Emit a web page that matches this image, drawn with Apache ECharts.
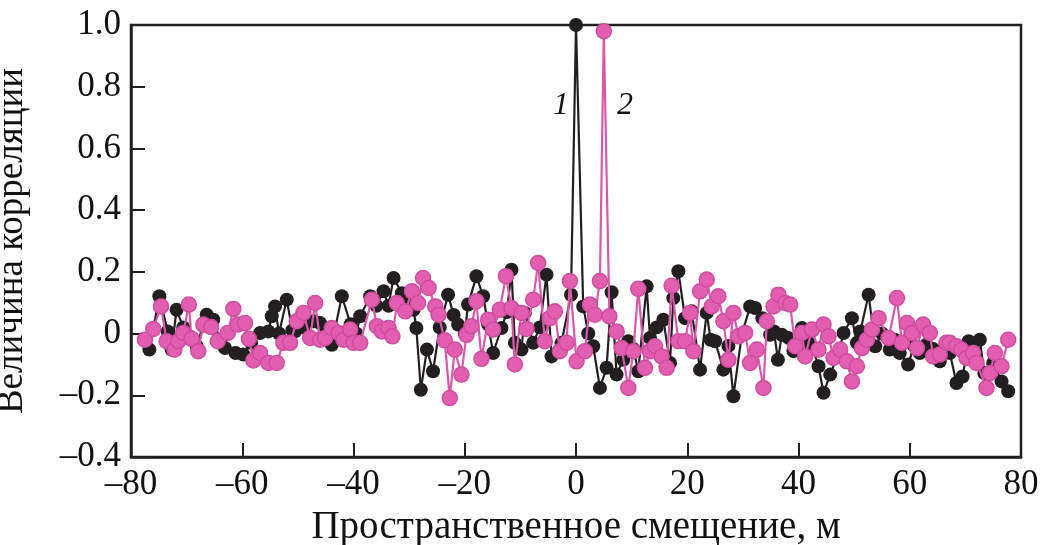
<!DOCTYPE html>
<html>
<head>
<meta charset="utf-8">
<script src="https://cdn.jsdelivr.net/npm/echarts@6/dist/echarts.min.js"></script>
<style>
  html, body { margin: 0; padding: 0; background: #ffffff; }
  #chart { width: 1048px; height: 545px; }
</style>
</head>
<body>
<div id="chart"></div>
<script>
// Curve 1 (black): spatial offset, m / correlation value
const blackX = [-76.7, -74.9, -73.4, -72.7, -71.8, -70.6, -69.4, -68.2, -66.4, -65.2,
  -64.0, -63.1, -61.2, -59.8, -58.4, -56.8, -55.3, -54.7, -54.1, -53.4,
  -52.0, -51.0, -50.5, -49.0, -47.2, -46.0, -44.8, -43.9, -42.1, -40.5,
  -39.5, -38.8, -37.0, -35.9, -34.6, -33.7, -32.8, -31.3, -30.2, -29.2,
  -28.7, -27.9, -26.8, -25.7, -24.5, -23.0, -22.0, -21.2, -20.0, -19.4,
  -17.9, -16.7, -15.8, -14.9, -13.4, -12.4, -11.6, -11.0, -9.8, -9.2,
  -7.7, -6.5, -5.3, -4.4, -2.6, -0.9, 0, 1.3, 2.2, 3.1,
  4.3, 5.5, 6.4, 7.3, 8.5, 9.4, 10.3, 11.2, 12.7, 13.3,
  14.5, 15.7, 16.9, 17.5, 18.4, 19.6, 20.8, 22.3, 23.5, 24.2,
  25.0, 26.5, 27.4, 28.3, 29.8, 31.3, 32.2, 33.5, 34.9, 35.6,
  36.3, 37.0, 38.2, 39.1, 40.6, 41.8, 42.6, 43.6, 44.5, 45.7,
  47.2, 48.1, 49.6, 50.5, 51.1, 52.6, 53.8, 55.0, 56.4, 57.3,
  58.2, 59.7, 60.8, 61.8, 63.0, 64.2, 65.4, 66.3, 67.2, 68.4,
  69.5, 70.6, 71.6, 72.6, 73.4, 75.0, 76.5, 77.7];
const blackY = [-0.052, 0.121, 0.007, -0.052, 0.077, 0.02, -0.01, -0.04, 0.061, 0.045,
  -0.02, -0.047, -0.063, -0.068, -0.03, 0.002, 0.007, 0.056, 0.088, 0.0,
  0.11, 0.01, 0.007, 0.02, 0.04, 0.034, 0.01, -0.036, 0.121, 0.03,
  0.0, 0.056, 0.121, 0.09, 0.137, 0.09, 0.18, 0.131, 0.1, 0.077,
  0.018, -0.182, -0.052, -0.122, 0.02, 0.126, 0.06, 0.029, 0.002, 0.094,
  0.186, 0.121, 0.03, -0.063, 0.018, 0.07, 0.207, -0.03, -0.052, 0.067,
  -0.03, 0.02, 0.191, -0.074, -0.03, 0.126, 1.0, 0.088, 0.0, -0.041,
  -0.176, -0.111, 0.134, -0.133, -0.085, -0.025, -0.05, -0.122, 0.153, -0.014,
  0.02, 0.045, -0.095, 0.115, 0.202, 0.05, 0.072, -0.117, 0.067, -0.02,
  -0.025, -0.117, -0.04, -0.203, -0.004, 0.088, 0.083, 0.05, -0.004, 0.007,
  -0.085, -0.004, -0.014, -0.057, 0.018, -0.03, -0.05, -0.106, -0.192, -0.133,
  -0.063, 0.002, 0.05, -0.03, 0.007, 0.126, -0.041, 0.0, -0.052, -0.02,
  -0.063, -0.1, -0.04, -0.063, -0.036, -0.05, -0.09, -0.06, -0.063, -0.16,
  -0.139, -0.025, -0.06, -0.02, -0.128, -0.095, -0.155, -0.187];

// Curve 2 (pink)
const pinkX = [-77.5, -76.0, -74.6, -73.6, -72.2, -71.5, -70.6, -69.6, -69.1, -67.9,
  -67.0, -65.6, -64.4, -62.6, -61.6, -60.8, -59.5, -58.8, -58.0, -56.8,
  -55.3, -53.8, -52.6, -51.4, -50.2, -49.0, -47.8, -46.9, -46.0, -45.1,
  -43.9, -42.7, -41.8, -40.6, -40.0, -38.8, -36.7, -35.8, -34.9, -33.7,
  -33.0, -32.2, -30.7, -29.5, -28.4, -27.5, -26.5, -25.3, -24.7, -23.6,
  -22.7, -21.8, -20.6, -19.7, -18.8, -17.9, -17.0, -15.8, -14.9, -13.7,
  -12.6, -11.6, -11.0, -9.8, -8.9, -7.7, -6.8, -5.6, -4.7, -3.8,
  -2.9, -1.7, -1.1, 0.1, 1.6, 2.5, 3.4, 4.3, 5.0, 6.0,
  7.3, 8.2, 9.4, 10.3, 11.2, 12.4, 13.3, 14.2, 15.4, 16.3,
  17.2, 18.4, 19.6, 20.5, 21.1, 22.3, 23.5, 24.4, 25.6, 26.5,
  27.4, 28.3, 29.2, 30.4, 31.3, 32.5, 33.7, 34.3, 35.5, 36.4,
  37.6, 38.5, 39.4, 40.6, 41.2, 42.4, 43.6, 44.5, 45.4, 46.3,
  47.5, 48.7, 49.6, 50.5, 51.4, 52.3, 53.2, 54.4, 56.2, 57.7,
  58.6, 59.5, 60.4, 61.3, 62.4, 63.6, 64.2, 65.4, 66.6, 67.2,
  68.4, 69.3, 70.2, 71.4, 72.0, 73.8, 74.4, 75.3, 76.5, 77.7];
const pinkY = [-0.02, 0.015, 0.088, -0.025, -0.052, -0.025, 0.002, 0.094, -0.017, -0.057,
  0.029, 0.021, -0.025, 0.002, 0.08, 0.029, 0.034, -0.017, -0.087, -0.063,
  -0.095, -0.095, -0.03, -0.03, 0.04, 0.067, -0.014, 0.099, -0.02, -0.014,
  0.018, 0.002, -0.02, 0.013, -0.03, -0.03, 0.11, 0.024, 0.007, 0.018,
  -0.009, 0.099, 0.072, 0.137, 0.099, 0.18, 0.148, 0.088, 0.061, -0.022,
  -0.209, -0.052, -0.133, -0.004, 0.024, 0.105, -0.082, 0.045, 0.013, 0.077,
  0.186, 0.083, -0.1, 0.067, 0.015, 0.11, 0.229, -0.025, 0.05, 0.072,
  -0.057, -0.03, 0.17, -0.09, -0.057, 0.094, 0.061, 0.17, 0.98, 0.056,
  0.007, -0.047, -0.176, -0.057, 0.145, -0.111, -0.057, -0.041, -0.074, -0.111,
  0.155, -0.025, -0.025, 0.067, -0.057, 0.137, 0.175, 0.088, 0.121, 0.04,
  -0.085, 0.067, -0.009, 0.002, -0.095, -0.052, -0.176, 0.04, 0.088, 0.126,
  0.099, 0.094, -0.041, 0.002, -0.074, 0.013, -0.052, 0.029, -0.009, -0.079,
  -0.052, -0.09, -0.155, -0.106, -0.047, -0.02, 0.013, 0.05, -0.014, 0.115,
  -0.03, 0.034, 0.002, -0.047, 0.029, 0.002, -0.074, -0.068, -0.03, -0.03,
  -0.041, -0.052, -0.079, -0.063, -0.095, -0.176, -0.128, -0.063, -0.106, -0.02];

// Curve labels, anchored in data coordinates
const curveLabels = ['1', '2'];
const curveLabelX = [-2.7, 8.8];
const curveLabelY = [0.74, 0.74];

const AXIS_COLOR = '#231f20';
const FONT = '"Liberation Serif", "DejaVu Serif", serif';

function zip(xs, ys) {
  return xs.map((x, i) => [x, ys[i]]);
}

const chart = echarts.init(document.getElementById('chart'), null, { renderer: 'canvas' });

const option = {
  animation: false,
  backgroundColor: '#ffffff',
  grid: {
    left: 131, right: 27, top: 25, bottom: 88,
    outerBoundsMode: 'none',
    containLabel: false,
    show: true, borderColor: AXIS_COLOR, borderWidth: 2.5,
    backgroundColor: 'transparent'
  },
  xAxis: {
    type: 'value', min: -80, max: 80, interval: 20,
    name: 'Пространственное смещение, м',
    nameLocation: 'middle', nameGap: 51,
    nameTextStyle: { fontFamily: FONT, fontSize: 39, color: '#111' },
    axisLine: { show: true, onZero: false, lineStyle: { color: AXIS_COLOR, width: 2.5 } },
    axisTick: { show: true, inside: true, length: 14, lineStyle: { color: AXIS_COLOR, width: 2 } },
    axisLabel: {
      fontFamily: FONT, fontSize: 35, color: '#111', margin: 10,
      formatter: v => (v < 0 ? '\u2013' + Math.abs(v) : String(v))
    },
    splitLine: { show: false }
  },
  yAxis: {
    type: 'value', min: -0.4, max: 1.0, interval: 0.2,
    name: 'Величина корреляции',
    nameLocation: 'middle', nameGap: 100, nameRotate: 90,
    nameTextStyle: { fontFamily: FONT, fontSize: 37, color: '#111' },
    axisLine: { show: true, onZero: false, lineStyle: { color: AXIS_COLOR, width: 2.5 } },
    axisTick: { show: true, inside: true, length: 14, lineStyle: { color: AXIS_COLOR, width: 2 } },
    axisLabel: {
      fontFamily: FONT, fontSize: 35, color: '#111', margin: 10,
      formatter: v => {
        const r = Math.round(v * 10) / 10;
        if (r === 0) return '0';
        return (r < 0 ? '\u2013' : '') + Math.abs(r).toFixed(1);
      }
    },
    splitLine: { show: false }
  },
  series: [
    {
      name: '1', type: 'line', data: zip(blackX, blackY),
      symbol: 'circle', symbolSize: 14, showAllSymbol: true,
      lineStyle: { color: '#231f20', width: 2.2 },
      itemStyle: { color: '#231f20', borderColor: '#231f20', borderWidth: 0 },
      z: 2
    },
    {
      name: '2', type: 'line', data: zip(pinkX, pinkY),
      symbol: 'circle', symbolSize: 15, showAllSymbol: true,
      lineStyle: { color: '#d859aa', width: 2.2 },
      itemStyle: { color: '#e35eb0', borderColor: '#cf4d9e', borderWidth: 1.5 },
      z: 3
    }
  ]
};

chart.setOption(option);

// Italic curve numbers placed next to the two peaks
chart.setOption({
  graphic: curveLabels.map((t, i) => {
    const p = chart.convertToPixel({ gridIndex: 0 }, [curveLabelX[i], curveLabelY[i]]);
    return {
      type: 'text', x: p[0], y: p[1], z: 10,
      style: {
        text: t, fill: '#111', fontFamily: FONT, fontStyle: 'italic',
        fontSize: 32, align: 'center', verticalAlign: 'middle'
      }
    };
  })
});
</script>
</body>
</html>
